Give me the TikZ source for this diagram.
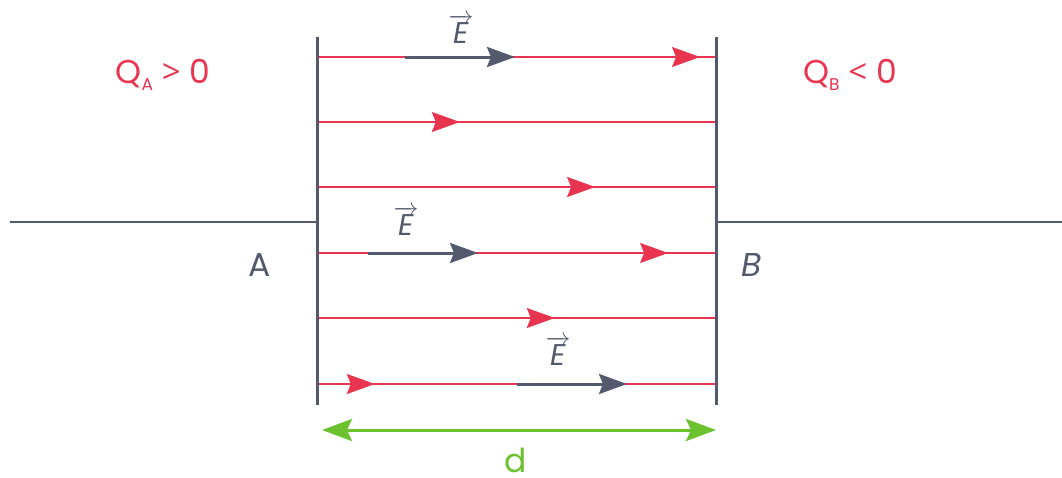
\documentclass[tikz,border=0pt]{standalone}
\usepackage{fontspec}
\setmainfont{Poppins}
\newfontfamily\symfont{Open Sans}
\usetikzlibrary{arrows.meta, decorations.markings}

\definecolor{fieldred}{HTML}{E8344E}
\definecolor{plategray}{HTML}{535A6E}
\definecolor{dgreen}{HTML}{6CC22E}

\tikzset{
  plate/.style={plategray, line width=3pt},
  wire/.style={plategray, line width=2pt},
  fieldline/.style={fieldred, line width=1.5pt},
  evec/.style={plategray, line width=3pt, -{Stealth[length=28pt, width=20pt, inset=4pt]}},
  dist/.style={dgreen, line width=3pt, {Stealth[length=30pt, width=22pt, inset=5pt]}-{Stealth[length=30pt, width=22pt, inset=5pt]}},
  lbl/.style={font=\fontsize{33}{38}\selectfont, inner sep=0pt},
  elbl/.style={plategray, font=\fontsize{30}{34}\selectfont, inner sep=0pt},
}
\newcommand{\vecE}{$\overrightarrow{\mkern3mu\textit{E}\mkern3mu}$}
\newcommand{\subQ}[1]{\raisebox{-7pt}{\fontsize{17}{17}\selectfont #1}}

\begin{document}
\begin{tikzpicture}[x=1pt, y=-1pt]
\useasboundingbox (0,0) rectangle (1062,477);

% plates and wires
\coordinate (Atop) at (317,37);
\coordinate (Abot) at (317,405);
\coordinate (Btop) at (716,37);
\coordinate (Bbot) at (716,405);
\coordinate (Amid) at (317,222);
\coordinate (Bmid) at (716,222);
\coordinate (wL) at (10,222);
\coordinate (wR) at (1062,222);
\draw[wire] (wL) -- (Amid);
\draw[wire] (Bmid) -- (wR);

% field lines
\foreach \y/\p [count=\i] in {57/0.96, 122/0.358, 187/0.697, 253/0.88, 318/0.596, 384/0.145} {
  \coordinate (a\i) at (317,\y);
  \coordinate (b\i) at (716,\y);
  \draw[fieldline, postaction={decorate},
        decoration={markings, mark=at position \p with {\arrow{Stealth[length=28pt, width=20pt, inset=4pt]}}}]
    (a\i) -- (b\i);
}

\draw[plate] (Atop) -- (Abot);
\draw[plate] (Btop) -- (Bbot);

% E vectors
\coordinate (e1s) at (405,57);  \coordinate (e1t) at (515,57);
\coordinate (e2s) at (368,253); \coordinate (e2t) at (478,253);
\coordinate (e3s) at (517,384); \coordinate (e3t) at (627,384);
\draw[evec] (e1s) -- (e1t);
\draw[evec] (e2s) -- (e2t);
\draw[evec] (e3s) -- (e3t);
\node[elbl] (E1) at (461,29) {\vecE};
\node[elbl] (E2) at (406,221) {\vecE};
\node[elbl] (E3) at (558,351) {\vecE};

% labels
\node[lbl, fieldred] (QA) at (163,75) {Q\subQ{A} {\symfont >} 0};
\node[lbl, fieldred] (QB) at (850,75) {Q\subQ{B} {\symfont <} 0};
\node[lbl, plategray] (A) at (260,265) {A};
\node[lbl, plategray] (B) at (752,265) {\textit{B}};

% distance
\coordinate (d1) at (322,430);
\coordinate (d2) at (716,430);
\draw[dist] (d1) -- (d2);
\node[lbl, dgreen, anchor=base] (d) at (516,472) {d};
\end{tikzpicture}
\end{document}
